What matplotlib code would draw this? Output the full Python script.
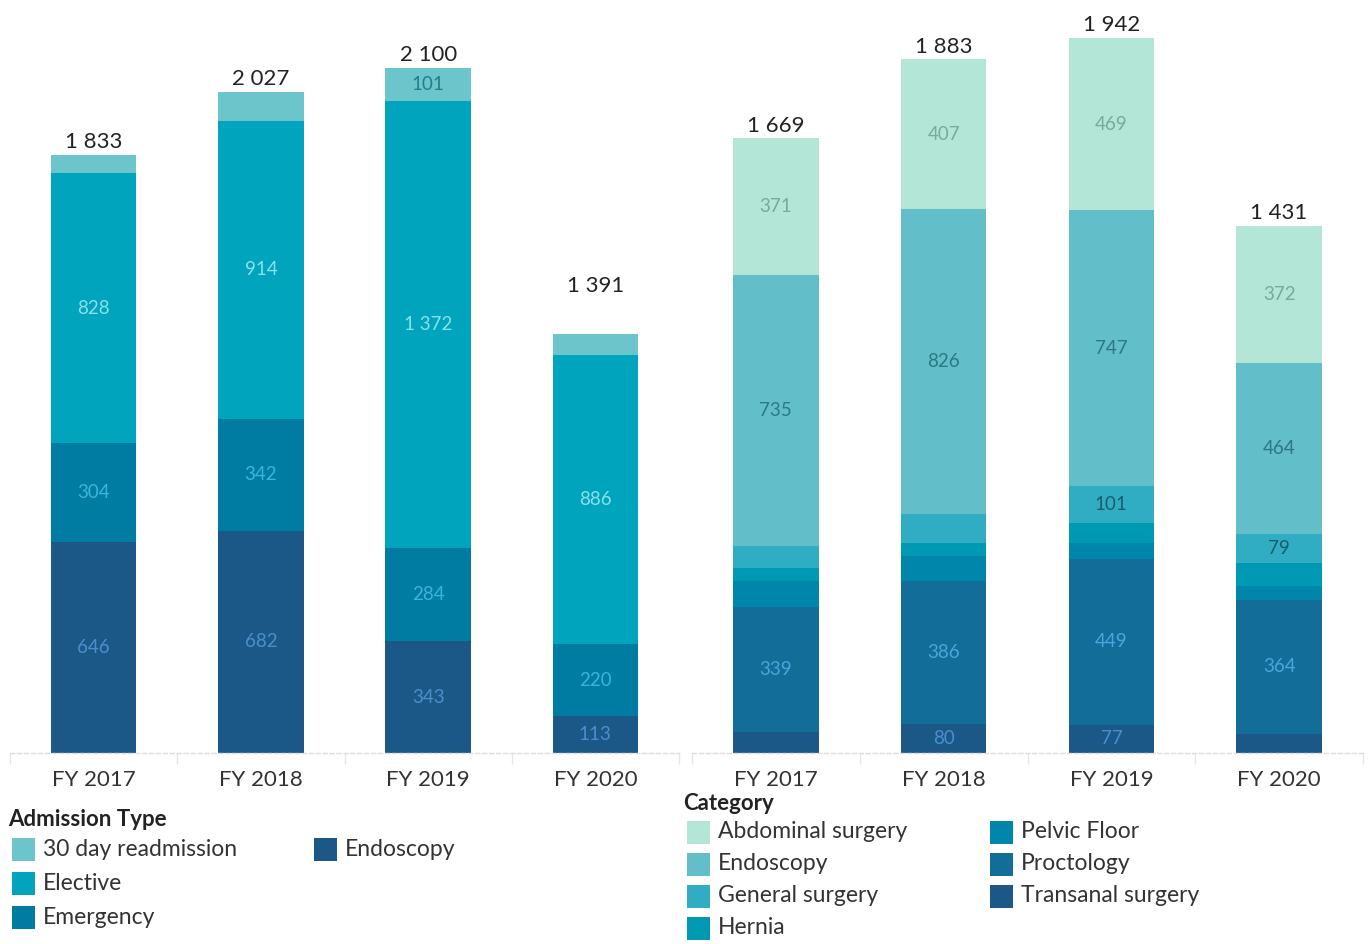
import matplotlib
matplotlib.use('Agg')
import matplotlib.pyplot as plt
from matplotlib.patches import Rectangle
import numpy as np

plt.rcParams['font.family'] = ['Lato', 'DejaVu Sans']

W, H = 1370, 944

years = ['FY 2017', 'FY 2018', 'FY 2019', 'FY 2020']

# admissions by type, stacked bottom-up
adm_names = ['Endoscopy', 'Emergency', 'Elective', '30 day readmission']
adm_endoscopy = [646, 682, 343, 113]
adm_emergency = [304, 342, 284, 220]
adm_elective = [828, 914, 1372, 886]
adm_readmission = [55, 89, 101, 67]
adm_totals = [1833, 2027, 2100, 1391]
adm_colors = ['#1b5887', '#007ca3', '#00a4bd', '#6dc5cc']
adm_text = ['#4a8fcc', '#3fb2da', '#8ae0ea', '#1f7f8c']
adm_show = [[1, 1, 1, 1], [1, 1, 1, 1], [1, 1, 1, 1], [0, 0, 1, 0]]

# procedures by category, stacked bottom-up
cat_names = ['Transanal surgery', 'Proctology', 'Pelvic Floor', 'Hernia',
             'General surgery', 'Endoscopy', 'Abdominal surgery']
cat_transanal = [58, 80, 77, 52]
cat_proctology = [339, 386, 449, 364]
cat_pelvic = [71, 69, 44, 38]
cat_hernia = [35, 35, 55, 62]
cat_general = [60, 80, 101, 79]
cat_endoscopy = [735, 826, 747, 464]
cat_abdominal = [371, 407, 469, 372]
cat_totals = [1669, 1883, 1942, 1431]
cat_colors = ['#1c5887', '#126d99', '#0086ab', '#0099b3',
              '#30adc2', '#62bec9', '#b3e6d6']
cat_text = ['#4a8fcc', '#4aa5dc', '#3fb2da', '#3fb2da',
            '#175f6e', '#2b7985', '#7ba99b']
cat_show = [[0, 1, 1, 0], [1, 1, 1, 1], [0, 0, 0, 0], [0, 0, 0, 0],
            [0, 0, 1, 1], [1, 1, 1, 1], [1, 1, 1, 1]]


def fx(px):
    return px / W


def fy(py):
    return 1 - py / H


def draw_stack(ax, series, totals, colors, tcolors, show, ymax):
    x = np.arange(len(years))
    bottom = np.zeros(len(years))
    for vals, c, tc, sh in zip(series, colors, tcolors, show):
        vals = np.array(vals, dtype=float)
        ax.bar(x, vals, width=0.51, bottom=bottom, color=c, linewidth=0)
        for i, v in enumerate(vals):
            if sh[i]:
                ax.text(x[i], bottom[i] + v / 2, f'{int(v):,}'.replace(',', ' '),
                        ha='center', va='center', fontsize=13.5, color=tc)
        bottom += vals
    for i, t in enumerate(totals):
        ax.annotate(f'{t:,}'.replace(',', ' '), (x[i], t), xytext=(0, 2),
                    textcoords='offset points', ha='center', va='bottom',
                    fontsize=16, color='#222222')
    ax.set_xlim(-0.5, len(years) - 0.5)
    ax.set_ylim(0, ymax)
    ax.set_xticks(x)
    ax.set_xticklabels(years, fontsize=16, color='#333333')
    ax.set_xticks(np.arange(len(years) + 1) - 0.5, minor=True)
    ax.tick_params(axis='x', which='major', length=0, pad=12)
    ax.tick_params(axis='x', which='minor', length=8, color='#e6e6e6', width=1)
    ax.set_yticks([])
    for s in ['top', 'right', 'left']:
        ax.spines[s].set_visible(False)
    ax.spines['bottom'].set_color('#dddddd')
    ax.spines['bottom'].set_linestyle((0, (3, 2)))
    ax.spines['bottom'].set_linewidth(1)


fig = plt.figure(figsize=(13.7, 9.44), dpi=100)
fig.patch.set_facecolor('white')

base = 753
ax1 = fig.add_axes([fx(10), fy(base), fx(669), base / H])
ax2 = fig.add_axes([fx(692), fy(base), fx(671), base / H])

draw_stack(ax1, [adm_endoscopy, adm_emergency, adm_elective, adm_readmission],
           adm_totals, adm_colors, adm_text, adm_show, base / 0.3262)
draw_stack(ax2, [cat_transanal, cat_proctology, cat_pelvic, cat_hernia,
                 cat_general, cat_endoscopy, cat_abdominal],
           cat_totals, cat_colors, cat_text, cat_show, base / 0.3683)


def legend_item(x, y, label, color):
    fig.add_artist(Rectangle((fx(x), fy(y + 11.5)), fx(23), 23 / H,
                             transform=fig.transFigure, color=color, lw=0))
    fig.text(fx(x + 31), fy(y), label, fontsize=16.5, color='#333333',
             va='center', ha='left')


# Admission Type legend
fig.text(fx(8), fy(820), 'Admission Type', fontsize=16, fontweight='bold',
         color='#222222', va='center', ha='left')
adm_legend = ['30 day readmission', 'Elective', 'Emergency', 'Endoscopy']
adm_legend_col = dict(zip(adm_names, adm_colors))
for k, name in enumerate(adm_legend):
    col, row = divmod(k, 3)
    legend_item(12 + col * 302, 849 + row * 34, name, adm_legend_col[name])

# Category legend
fig.text(fx(683), fy(803), 'Category', fontsize=16, fontweight='bold',
         color='#222222', va='center', ha='left')
cat_legend = sorted(cat_names)
cat_legend_col = dict(zip(cat_names, cat_colors))
for k, name in enumerate(cat_legend):
    col, row = divmod(k, 4)
    legend_item(687 + col * 303, 832 + row * 32, name, cat_legend_col[name])

fig.savefig('out.png', dpi=100, facecolor='white')
